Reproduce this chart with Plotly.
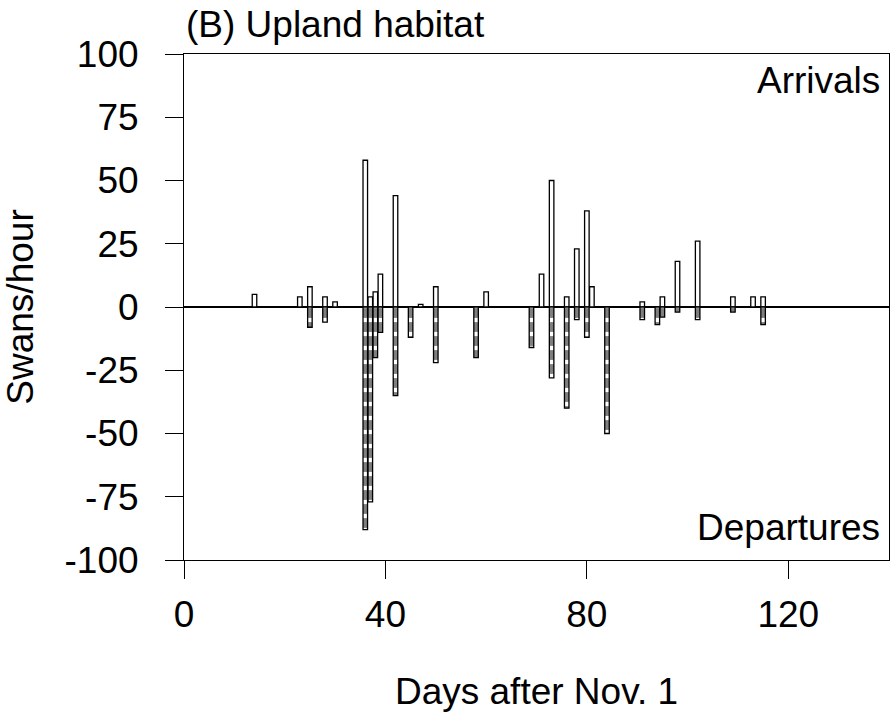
import plotly.graph_objects as go

# Data
arrival_days = [14, 23, 25, 28, 30, 36, 37, 38, 39, 42, 47, 50, 60, 71, 73, 76, 78, 80, 81, 91, 95, 98, 102, 109, 113, 115]
arrivals = [5, 4, 8, 4, 2, 58, 4, 6, 13, 44, 1, 8, 6, 13, 50, 4, 23, 38, 8, 2, 4, 18, 26, 4, 4, 4]
departure_days = [25, 28, 36, 37, 38, 39, 42, 45, 50, 58, 69, 73, 76, 78, 80, 84, 91, 94, 95, 98, 102, 109, 115]
departures = [-8, -6, -88, -77, -20, -10, -35, -12, -22, -20, -16, -28, -40, -5, -12, -50, -5, -7, -4, -2, -5, -2, -7]

x_ticks = [0, 40, 80, 120]
y_ticks = [100, 75, 50, 25, 0, -25, -50, -75, -100]

FONT = "Liberation Sans, Arial, sans-serif"
FS = 37

fig = go.Figure()
fig.add_trace(go.Bar(
    x=arrival_days, y=arrivals, width=0.9,
    marker=dict(color="white", line=dict(color="black", width=1.3)),
    showlegend=False,
))
fig.add_trace(go.Bar(
    x=departure_days, y=departures, width=0.9,
    marker=dict(color="white", line=dict(color="black", width=1.3),
                pattern=dict(shape="-", fgcolor="black", bgcolor="white", size=14, solidity=0.7)),
    showlegend=False,
))

fig.update_layout(
    width=891, height=716,
    margin=dict(l=184, r=2, t=54, b=156),
    paper_bgcolor="white", plot_bgcolor="white",
    barmode="overlay",
    font=dict(family=FONT, size=FS, color="black"),
    xaxis=dict(
        range=[0, 140], tickvals=x_ticks, ticktext=[str(v) for v in x_ticks],
        showgrid=False, zeroline=False,
        showline=True, linecolor="black", linewidth=1, mirror=True,
        ticks="outside", ticklen=18, tickcolor="black", tickwidth=1,
        ticklabelstandoff=4,
        title=dict(text="Days after Nov. 1", standoff=43, font=dict(size=FS)),
    ),
    yaxis=dict(
        range=[-100, 100], tickvals=y_ticks, ticktext=[str(v) for v in y_ticks],
        showgrid=False, zeroline=True, zerolinecolor="black", zerolinewidth=1.5,
        showline=True, linecolor="black", linewidth=1, mirror=True,
        ticks="outside", ticklen=18, tickcolor="black", tickwidth=1,
        ticklabelstandoff=19,
        title=dict(text="Swans/hour", standoff=24, font=dict(size=FS)),
    ),
    annotations=[
        dict(text="(B) Upland habitat", xref="paper", yref="paper", x=0, y=1.059,
             xanchor="left", yanchor="middle", showarrow=False, font=dict(size=FS)),
        dict(text="Arrivals", xref="paper", yref="paper", x=0.99, y=0.947,
             xanchor="right", yanchor="middle", showarrow=False, font=dict(size=FS)),
        dict(text="Departures", xref="paper", yref="paper", x=0.99, y=0.065,
             xanchor="right", yanchor="middle", showarrow=False, font=dict(size=FS)),
    ],
)

fig.write_html("out.html")
